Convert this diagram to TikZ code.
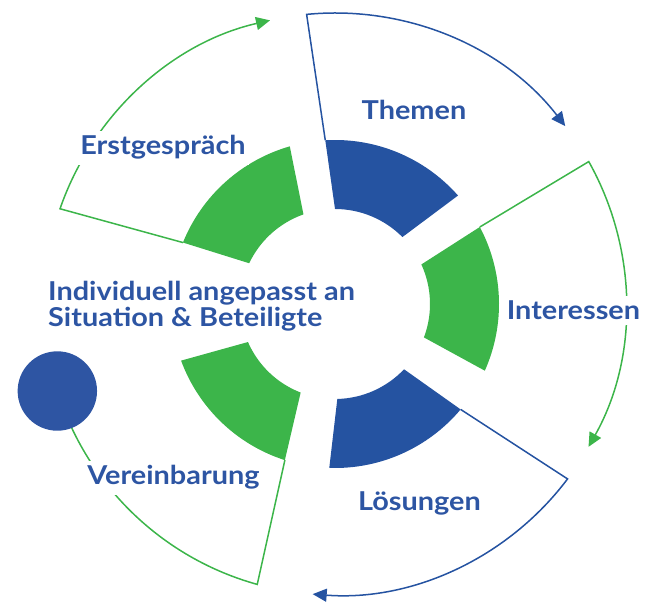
\documentclass[tikz,border=0pt]{standalone}
\usepackage{fontspec}
\newfontfamily\labfont{Lato}[FakeStretch=1.11]
\usetikzlibrary{arrows.meta}
\definecolor{segblue}{HTML}{2553A1}
\definecolor{txtblue}{HTML}{2D55A3}
\definecolor{seggreen}{HTML}{3CB54A}
\definecolor{circblue}{HTML}{2E55A3}
\newcommand\drawseg[2]{%
  \fill[#1] ({#2-22.6}:95pt) arc[start angle={#2-22.6}, end angle={#2+22.6}, radius=95pt]
    -- ({#2+26}:164pt) arc[start angle={#2+26}, end angle={#2-26}, radius=164pt] -- cycle;}
\begin{document}
\begin{tikzpicture}[x=1pt,y=1pt,
  lab/.style={font=\labfont\bfseries\fontsize{26}{30}\selectfont, text=txtblue, fill=white, inner xsep=3pt, inner ysep=5pt, anchor=base},
  outl/.style={line width=1.5pt},
  tipped/.style={-{Triangle[length=14pt,width=13pt]}}
]
\useasboundingbox (0,0) rectangle (647,604);
\begin{scope}[shift={(335,300)}]
  \drawseg{seggreen}{2}
  \drawseg{segblue}{67.4}
  \drawseg{seggreen}{132}
  \drawseg{seggreen}{226.2}
  \drawseg{segblue}{-66}
  \draw[outl, seggreen, tipped] (158:164pt) -- (160.9:291pt) arc[start angle=160.9, end angle=102.9, radius=291pt];
  \draw[outl, segblue, tipped] (93.4:164pt) -- (95.6:291pt) arc[start angle=95.6, end angle=37.7, radius=291pt];
  \draw[outl, seggreen, tipped] (28:164pt) -- (29.3:291pt) arc[start angle=29.3, end angle=-29.4, radius=291pt];
  \draw[outl, segblue, tipped] (-40:164pt) -- (-36.95:291pt) arc[start angle=-36.95, end angle=-94.4, radius=291pt];
  \draw[outl, seggreen] (252.2:164pt) -- (254.5:291pt) arc[start angle=254.5, end angle=197.4, radius=291pt];
  \node[circle, fill=circblue, minimum size=79.4pt, inner sep=0pt] (dot) at (197.4:291pt) {};
\end{scope}
\node[lab] (erst) at (163,449) {Erstgespräch};
\node[lab] (themen) at (414,484) {Themen};
\node[lab] (inter) at (573.5,284) {Interessen};
\node[lab] (loes) at (419.5,93.3) {Lösungen};
\node[lab] (verein) at (173.5,119) {Vereinbarung};
\node[lab, fill=none, inner sep=0pt, align=left, anchor=north west, font=\labfont\bfseries\fontsize{26}{25.7}\selectfont] (mitte) at (48,323) {Individuell angepasst an\\Situation \& Beteiligte};
\end{tikzpicture}
\end{document}
